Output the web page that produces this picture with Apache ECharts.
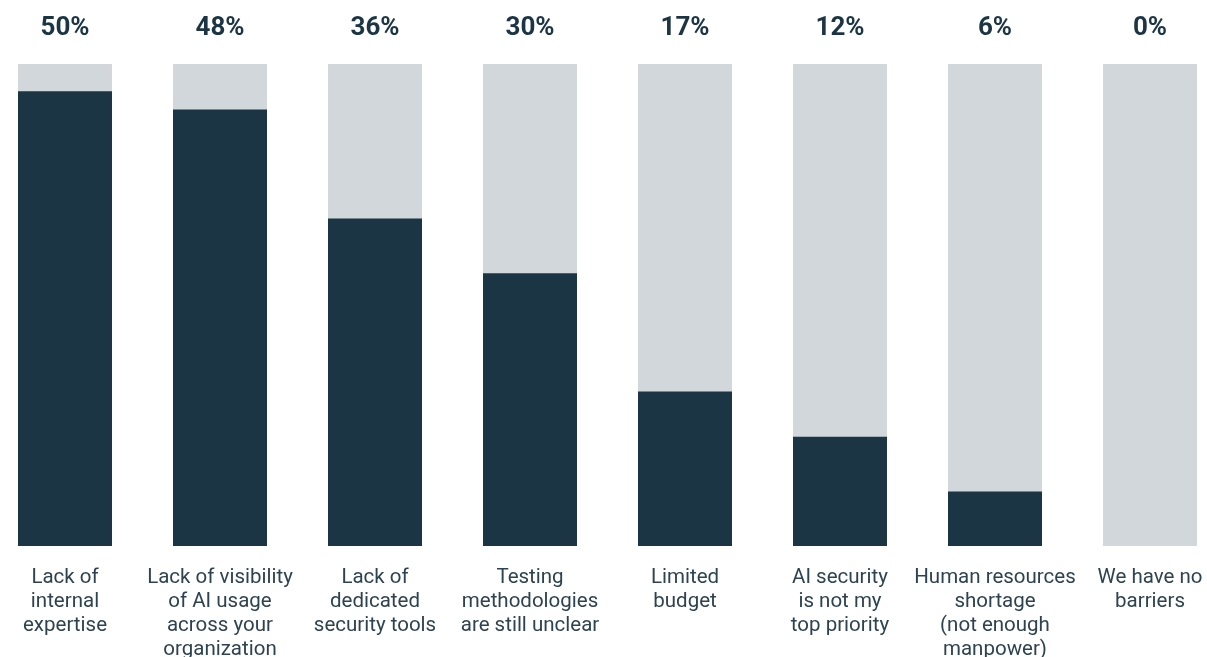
<!DOCTYPE html>
<html>
<head>
<meta charset="utf-8">
<script src="https://cdn.jsdelivr.net/npm/echarts@6/dist/echarts.min.js"></script>
<style>
  html, body { margin: 0; padding: 0; background: #ffffff; overflow: hidden; }
  #chart { width: 1207px; height: 657px; }
</style>
</head>
<body>
<div id="chart"></div>
<script>
// Barriers to AI security, share of respondents (%)
const categories = [
  'Lack of\ninternal\nexpertise',
  'Lack of visibility\nof AI usage\nacross your\norganization',
  'Lack of\ndedicated\nsecurity tools',
  'Testing\nmethodologies\nare still unclear',
  'Limited\nbudget',
  'AI security\nis not my\ntop priority',
  'Human resources\nshortage\n(not enough\nmanpower)',
  'We have no\nbarriers'
];
const values = [50, 48, 36, 30, 17, 12, 6, 0];
const axisMax = 53;

const chart = echarts.init(document.getElementById('chart'));
chart.setOption({
  animation: false,
  grid: {
    left: -12.5, right: -20.5, top: 64, bottom: 111,
    containLabel: false,
    outerBoundsMode: 'none'
  },
  xAxis: {
    type: 'category',
    data: categories,
    axisLine: { show: false },
    axisTick: { show: false },
    axisLabel: {
      interval: 0,
      margin: 20,
      color: '#2e4351',
      fontFamily: 'Roboto',
      fontSize: 20.5,
      lineHeight: 24,
      align: 'center',
      verticalAlign: 'top'
    }
  },
  yAxis: {
    type: 'value',
    min: 0,
    max: axisMax,
    show: false
  },
  series: [
    {
      // full-height track behind each bar, carrying the percentage label
      type: 'bar',
      data: categories.map(() => axisMax),
      barWidth: 94,
      barGap: '-100%',
      itemStyle: { color: '#d2d7db' },
      silent: true,
      z: 1,
      label: {
        show: true,
        position: 'top',
        distance: 21,
        formatter: p => values[p.dataIndex] + '%',
        color: '#1c3545',
        fontFamily: 'Roboto',
        fontWeight: 'bold',
        fontSize: 26,
        lineHeight: 30
      }
    },
    {
      type: 'bar',
      data: values,
      barWidth: 94,
      barGap: '-100%',
      itemStyle: { color: '#1c3545' },
      z: 2
    }
  ]
});
</script>
</body>
</html>
